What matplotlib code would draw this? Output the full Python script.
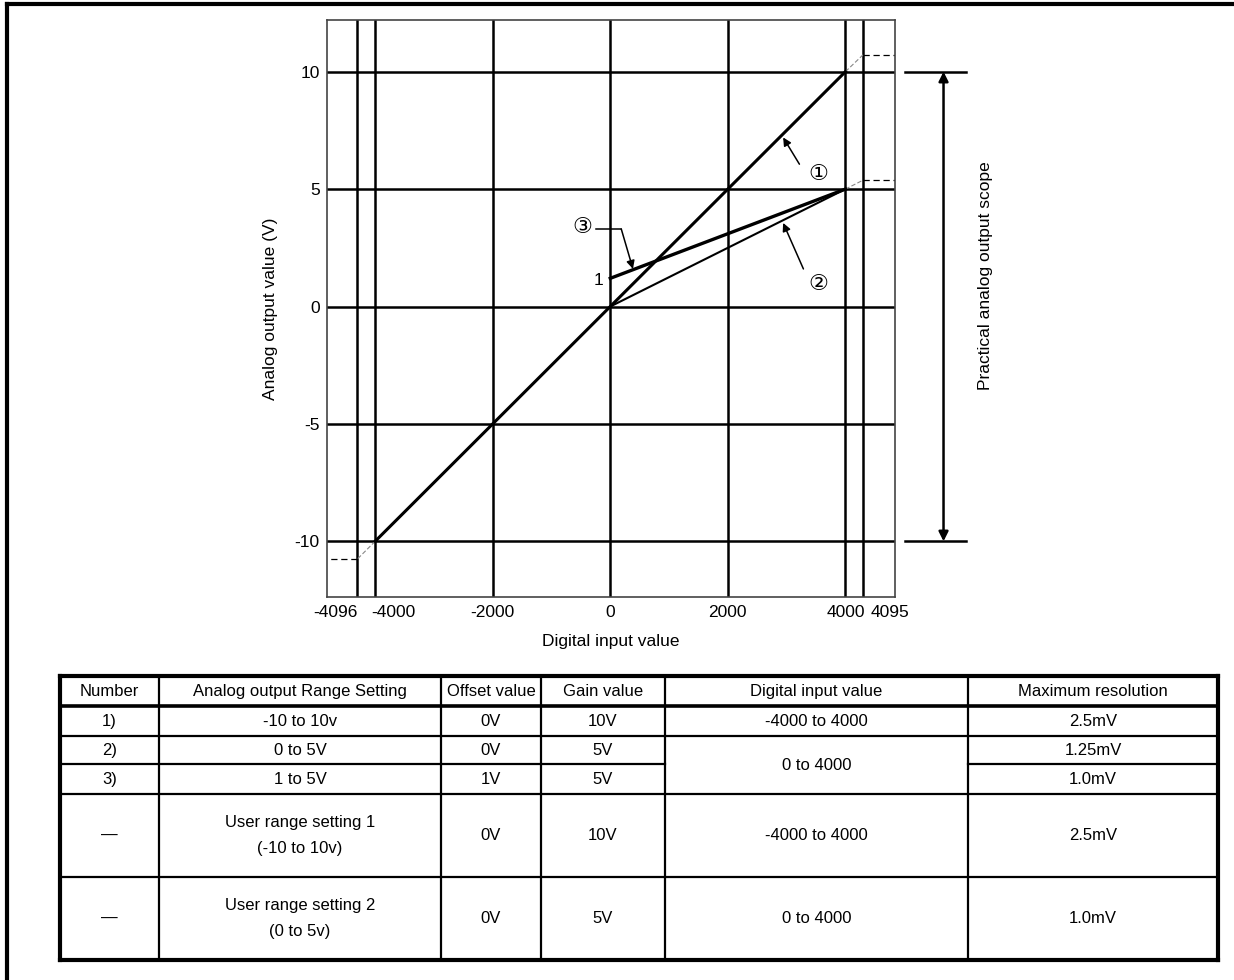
import matplotlib
matplotlib.use("Agg")
import matplotlib.pyplot as plt
import matplotlib.transforms as mtransforms

plt.rcParams['font.family'] = ['Liberation Sans', 'DejaVu Sans']
plt.rcParams['font.size'] = 12

# chart data
grid_x = [-4300, -4000, -2000, 0, 2000, 4000, 4300]
grid_x_labels = ['-4096', '-4000', '-2000', '0', '2000', '4000', '4095']
grid_y = [-10, -5, 0, 5, 10]
grid_y_labels = ['-10', '-5', '0', '5', '10']

line1_x = [-4000, 4000]
line1_y = [-10, 10]
line2_x = [0, 4000]
line2_y = [0, 5]
line3_x = [0, 4000]
line3_y = [1.2, 5]

# overshoot beyond the practical range (schematic)
over_hi = [(4000, 10, 4300, 10.72), (4000, 5, 4300, 5.38)]
over_lo = [(-4000, -10, -4300, -10.75)]

# table
col_edges = [60, 159, 441, 541, 665, 968, 1218]
row_edges = [676, 706, 736, 764, 794, 877, 960]
header = ["Number", "Analog output Range Setting", "Offset value", "Gain value",
          "Digital input value", "Maximum resolution"]
numbers = ["1)", "2)", "3)", "\u2014", "\u2014"]
ranges = ["-10 to 10v", "0 to 5V", "1 to 5V", "User range setting 1\n(-10 to 10v)",
          "User range setting 2\n(0 to 5v)"]
offsets = ["0V", "0V", "1V", "0V", "0V"]
gains = ["10V", "5V", "5V", "10V", "5V"]
digital = ["-4000 to 4000", "0 to 4000", None, "-4000 to 4000", "0 to 4000"]
resolution = ["2.5mV", "1.25mV", "1.0mV", "2.5mV", "1.0mV"]

fig = plt.figure(figsize=(12.34, 9.8), dpi=100)

# overlay for frame + table, in pixel coords
bg = fig.add_axes([0, 0, 1, 1])
bg.set_xlim(0, 1234)
bg.set_ylim(980, 0)
bg.axis('off')

ax = fig.add_axes([0.2647, 0.3908, 0.4606, 0.5888])
ax.set_xlim(-4824, 4843)
ax.set_ylim(-12.37, 12.2)

for gx in grid_x:
    ax.axvline(gx, color='k', lw=1.8, zorder=1)
for gy in grid_y:
    ax.axhline(gy, color='k', lw=1.8, zorder=1)

ax.set_xticks(grid_x)
ax.set_xticklabels(grid_x_labels)
ax.set_yticks(grid_y)
ax.set_yticklabels(grid_y_labels)
ax.tick_params(length=0, labelsize=12.5)
ax.tick_params(axis='x', pad=6)
ax.tick_params(axis='y', pad=5)
for s in ax.spines.values():
    s.set_color('#444444')
    s.set_linewidth(1.2)

# the crowded end labels sit beside their lines
xl = ax.get_xticklabels()
shift = {0: ('right', 0), 1: ('left', -4), 6: ('left', 8)}
for i, (ha, dx) in shift.items():
    xl[i].set_ha(ha)
    xl[i].set_transform(xl[i].get_transform() +
                        mtransforms.ScaledTranslation(dx / 100, 0, fig.dpi_scale_trans))

ax.plot(line1_x, line1_y, color='k', lw=2.2, zorder=3)
ax.plot(line2_x, line2_y, color='k', lw=1.5, zorder=3)
ax.plot(line3_x, line3_y, color='k', lw=2.4, zorder=3)

for x0, y0, x1, y1 in over_hi:
    ax.plot([x0, x1], [y0, y1], color='#888888', lw=0.8, ls=(0, (4, 2)), zorder=2)
    ax.plot([x1, 4843], [y1, y1], color='k', lw=0.9, ls=(0, (5, 3)), zorder=2)
for x0, y0, x1, y1 in over_lo:
    ax.plot([x0, x1], [y0, y1], color='#888888', lw=0.8, ls=(0, (4, 2)), zorder=2)
    ax.plot([x1, -4824], [y1, y1], color='k', lw=0.9, ls=(0, (5, 3)), zorder=2)

arrow = dict(arrowstyle='-|>', color='k', lw=1.1, mutation_scale=12, shrinkA=0, shrinkB=0)
ax.annotate('', xy=(2940, 7.2), xytext=(3217, 6.06), arrowprops=arrow)
ax.text(3540, 5.6, '\u2460', ha='center', va='center', fontsize=16)
ax.annotate('', xy=(2940, 3.56), xytext=(3285, 1.6), arrowprops=arrow)
ax.text(3540, 0.93, '\u2461', ha='center', va='center', fontsize=16)
ax.plot([-250, 187], [3.3, 3.3], color='k', lw=1.1)
ax.annotate('', xy=(386, 1.6), xytext=(187, 3.3), arrowprops=arrow)
ax.text(-482, 3.35, '\u2462', ha='center', va='center', fontsize=16)
ax.text(-120, 1.1, '1', ha='right', va='center', fontsize=12.5)

ax.set_xlabel('Digital input value', fontsize=12.5, labelpad=10)
ax.set_ylabel('Analog output value (V)', fontsize=12.5, labelpad=12)

# practical output scope marker on the right
for gy in (10, -10):
    ax.plot([5021, 6043], [gy, gy], color='k', lw=1.8, clip_on=False)
ax.annotate('', xy=(5668, 10), xytext=(5668, -10), annotation_clip=False,
            arrowprops=dict(arrowstyle='<|-|>', color='k', lw=1.8, mutation_scale=14,
                            shrinkA=0, shrinkB=0))
ax.text(6383, 1.3, 'Practical analog output scope', rotation=90, ha='center', va='center',
        fontsize=12.5, clip_on=False)

# page frame
bg.plot([7, 1234], [4, 4], color='k', lw=3)
bg.plot([7, 7], [4, 980], color='k', lw=3)

# table lines
x0, x1 = col_edges[0], col_edges[-1]
for i, ry in enumerate(row_edges):
    if i in (0, len(row_edges) - 1):
        lw = 3
    elif i == 1:
        lw = 2.6
    else:
        lw = 1.6
    if i == 3:
        # merged digital input cell for rows 2 and 3
        bg.plot([x0, col_edges[4]], [ry, ry], color='k', lw=lw)
        bg.plot([col_edges[5], x1], [ry, ry], color='k', lw=lw)
    else:
        bg.plot([x0, x1], [ry, ry], color='k', lw=lw)
for j, cx in enumerate(col_edges):
    lw = 3 if j in (0, len(col_edges) - 1) else 1.6
    bg.plot([cx, cx], [row_edges[0], row_edges[-1]], color='k', lw=lw)

def cell(col, r0, r1, txt):
    xc = (col_edges[col] + col_edges[col + 1]) / 2
    yc = (row_edges[r0] + row_edges[r1]) / 2
    bg.text(xc, yc, txt, ha='center', va='center', fontsize=12, linespacing=1.9)

for c, h in enumerate(header):
    cell(c, 0, 1, h)
columns = [numbers, ranges, offsets, gains, digital, resolution]
for c, vals in enumerate(columns):
    for r, v in enumerate(vals):
        if v is None:
            continue
        if c == 4 and r == 1:
            cell(c, 2, 4, v)
        else:
            cell(c, r + 1, r + 2, v)

fig.savefig('out.png', dpi=100)
